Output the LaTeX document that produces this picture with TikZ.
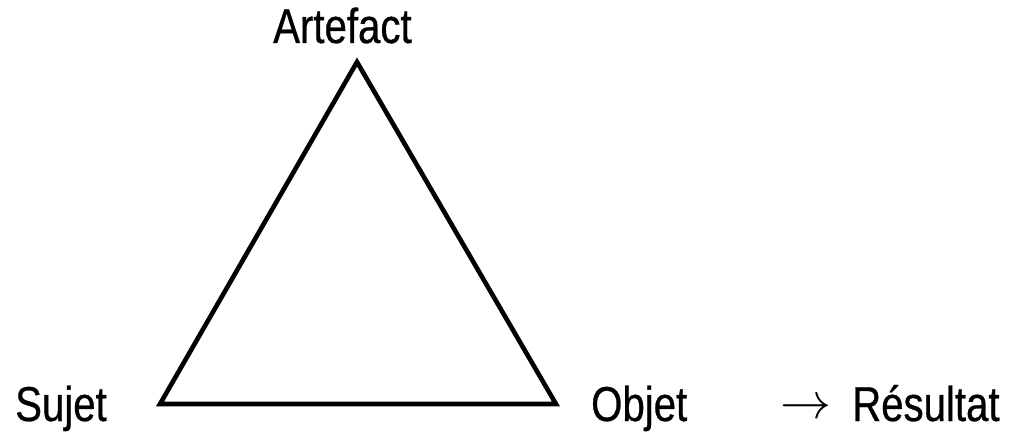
\documentclass[tikz,border=0pt]{standalone}
\usepackage{fontspec}
\setmainfont{Liberation Sans}[FakeStretch=0.82,FakeBold=0.6]
\begin{document}
\begin{tikzpicture}[x=1pt,y=-1pt,
  lbl/.style={inner sep=0pt, anchor=base west, font=\fontsize{49}{55}\selectfont},
  edge/.style={line width=4.6pt, line join=miter}]
\useasboundingbox (0,0) rectangle (1019,433);
\coordinate (A) at (357,62);
\coordinate (S) at (160,404);
\coordinate (O) at (556,404);
\draw[edge] (A) -- (S) -- (O) -- cycle;
\node[lbl] (art) at (273,43) {Artefact};
\node[lbl] (suj) at (15,421) {Sujet};
\node[lbl] (obj) at (591,421) {Objet};
\node[inner sep=0pt, anchor=center] (arr) at (806,409) {\scalebox{5.1}{$\rightarrow$}};
\node[lbl] (res) at (852,421) {Résultat};
\end{tikzpicture}
\end{document}
